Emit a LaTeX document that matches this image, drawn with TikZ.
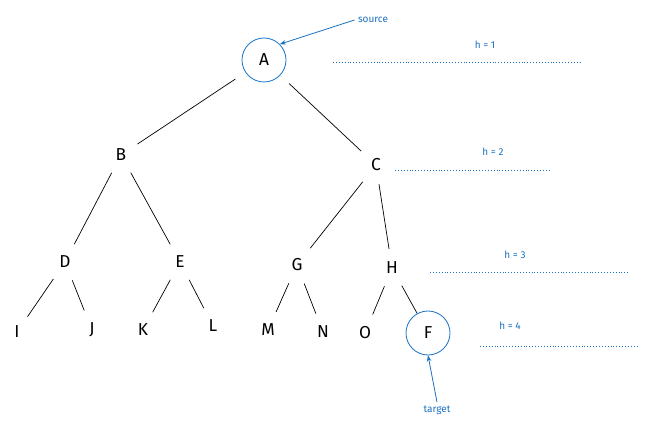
\documentclass[tikz,border=0pt]{standalone}
\usepackage{fontspec}
\setmainfont{Fira Sans}
\usetikzlibrary{arrows.meta}
\definecolor{xblue}{HTML}{1971C2}
\begin{document}
\begin{tikzpicture}[x=1pt,y=-1pt,
  v/.style={font=\LARGE, inner sep=1pt},
  circ/.style={v, draw=xblue, thick, circle, minimum size=44pt},
  e/.style={draw=black, line width=0.7pt, shorten <=12pt, shorten >=12pt},
  lab/.style={text=xblue, font=\normalsize},
  dot/.style={draw=xblue, line width=0.9pt, dotted},
  arr/.style={draw=xblue, thick, -{Stealth[length=6pt]}}]
\useasboundingbox (0,0) rectangle (645,430);
\node[circ] (A) at (264,60) {A};
\node[v] (B) at (121,155) {B};
\node[v] (C) at (376,165) {C};
\node[v] (D) at (65,262) {D};
\node[v] (E) at (180,262) {E};
\node[v] (G) at (297,265) {G};
\node[v] (H) at (392,268) {H};
\node[v] (I) at (17,332) {I};
\node[v] (J) at (92,330) {J};
\node[v] (K) at (143,330) {K};
\node[v] (L) at (213,326) {L};
\node[v] (M) at (268,330) {M};
\node[v] (N) at (323,332) {N};
\node[v] (O) at (365,333) {O};
\node[circ] (F) at (428,333) {F};
\draw[e] (A) -- (B); \draw[e] (A) -- (C);
\draw[e] (B) -- (D); \draw[e] (B) -- (E);
\draw[e] (C) -- (G); \draw[e] (C) -- (H);
\draw[e] (D) -- (I); \draw[e] (D) -- (J);
\draw[e] (E) -- (K); \draw[e] (E) -- (L);
\draw[e] (G) -- (M); \draw[e] (G) -- (N);
\draw[e] (H) -- (O); \draw[e,shorten >=0pt] (H) -- (F);
\node[lab] (src) at (373,20) {source};
\draw[arr] (src.west) -- (A.north east);
\node[lab] (tgt) at (437,410) {target};
\draw[arr] (tgt.north) -- (F.south);
\node[lab] (h1) at (485,45) {h = 1};
\coordinate (a1) at (333,62); \coordinate (b1) at (580,62);
\draw[dot] (a1) -- (b1);
\node[lab] (h2) at (493,152) {h = 2};
\coordinate (a2) at (395,170); \coordinate (b2) at (550,170);
\draw[dot] (a2) -- (b2);
\node[lab] (h3) at (515,255) {h = 3};
\coordinate (a3) at (430,272); \coordinate (b3) at (630,272);
\draw[dot] (a3) -- (b3);
\node[lab] (h4) at (510,326) {h = 4};
\coordinate (a4) at (480,346); \coordinate (b4) at (637,346);
\draw[dot] (a4) -- (b4);
\end{tikzpicture}
\end{document}
